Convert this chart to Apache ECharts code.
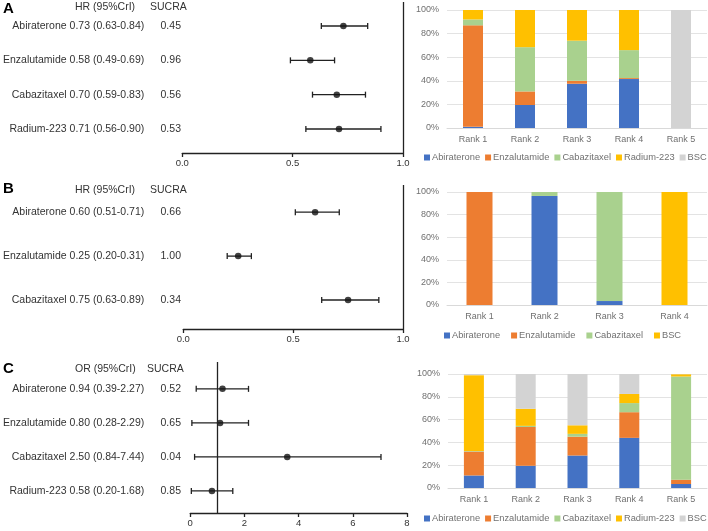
<!DOCTYPE html>
<html>
<head>
    <meta charset="utf-8">
    <title>Network meta-analysis forest plots and rank probabilities</title>
    <script src="https://cdn.jsdelivr.net/npm/echarts@6/dist/echarts.min.js"></script>
</head>
<body style="margin:0">
    <div id="main" style="width: 708px; height: 531px;"></div>

    <script type="text/javascript">
        var chart = echarts.init(document.getElementById('main'));

        // ---- forest plot data ----
        var drugsA = ['Abiraterone', 'Enzalutamide', 'Cabazitaxel', 'Radium-223'];
        var ciTextA = ['0.73 (0.63-0.84)', '0.58 (0.49-0.69)', '0.70 (0.59-0.83)', '0.71 (0.56-0.90)'];
        var sucraA = ['0.45', '0.96', '0.56', '0.53'];
        var estA = [0.73, 0.58, 0.70, 0.71];
        var loA = [0.63, 0.49, 0.59, 0.56];
        var hiA = [0.84, 0.69, 0.83, 0.90];

        var drugsB = ['Abiraterone', 'Enzalutamide', 'Cabazitaxel'];
        var ciTextB = ['0.60 (0.51-0.71)', '0.25 (0.20-0.31)', '0.75 (0.63-0.89)'];
        var sucraB = ['0.66', '1.00', '0.34'];
        var estB = [0.60, 0.25, 0.75];
        var loB = [0.51, 0.20, 0.63];
        var hiB = [0.71, 0.31, 0.89];

        var drugsC = ['Abiraterone', 'Enzalutamide', 'Cabazitaxel', 'Radium-223'];
        var ciTextC = ['0.94 (0.39-2.27)', '0.80 (0.28-2.29)', '2.50 (0.84-7.44)', '0.58 (0.20-1.68)'];
        var sucraC = ['0.52', '0.65', '0.04', '0.85'];
        // values as drawn in the plot
        var estC = [1.19, 1.10, 3.58, 0.80];
        var loC = [0.22, 0.06, 0.16, 0.04];
        var hiC = [2.15, 2.15, 7.04, 1.57];

        // ---- rank probability data (%) ----
        var ranks5 = ['Rank 1', 'Rank 2', 'Rank 3', 'Rank 4', 'Rank 5'];
        var ranks4 = ['Rank 1', 'Rank 2', 'Rank 3', 'Rank 4'];

        var abiA = [1, 19.5, 37.5, 41.5, 0];
        var enzA = [86, 11.5, 2.5, 0.8, 0];
        var cabA = [5, 37.5, 34, 23.7, 0];
        var radA = [8, 31.5, 26, 34, 0];
        var bscA = [0, 0, 0, 0, 100];

        var abiB = [0, 96.5, 3.5, 0];
        var enzB = [100, 0, 0, 0];
        var cabB = [0, 3.5, 96.5, 0];
        var bscB = [0, 0, 0, 100];

        var abiC = [11, 19.5, 28.5, 44, 3.5];
        var enzC = [21, 34, 16.5, 22.5, 3.8];
        var cabC = [0.5, 1, 2.5, 8, 90.5];
        var radC = [66.5, 15, 7.5, 8, 2];
        var bscC = [1, 30.5, 45, 17.5, 0.2];

        var colors = ['#4472C4', '#ED7D31', '#A9D18E', '#FFC000', '#D3D3D3'];
        var FONT = '"Liberation Sans", Arial, sans-serif';
        var INK = '#222';

        function ciRender(params, api) {
            var p1 = api.coord([api.value(0), api.value(2)]);
            var p2 = api.coord([api.value(1), api.value(2)]);
            var h = 3;
            var st = { stroke: INK, lineWidth: 1.3 };
            return {
                type: 'group',
                children: [
                    { type: 'line', shape: { x1: p1[0], y1: p1[1], x2: p2[0], y2: p2[1] }, style: st },
                    { type: 'line', shape: { x1: p1[0], y1: p1[1] - h, x2: p1[0], y2: p1[1] + h }, style: st },
                    { type: 'line', shape: { x1: p2[0], y1: p2[1] - h, x2: p2[0], y2: p2[1] + h }, style: st }
                ]
            };
        }

        function rowsOf(arr) {
            return arr.map(function (d, i) { return i + 1; });
        }

        function forestY(idx, names, ciText, sucra, min, max, margin) {
            return {
                type: 'value', gridIndex: idx, inverse: true, min: min, max: max,
                axisLine: { show: false }, axisTick: { show: false }, splitLine: { show: false },
                axisLabel: {
                    customValues: rowsOf(names),
                    margin: margin,
                    formatter: function (v) {
                        var i = Math.round(v) - 1;
                        return '{n|' + names[i] + ' ' + ciText[i] + '}{s|' + sucra[i] + '}';
                    },
                    rich: {
                        n: { fontSize: 10.5, fontFamily: FONT, color: '#333' },
                        s: { fontSize: 10.5, fontFamily: FONT, color: '#333', width: 23, padding: [0, 0, 0, 15], align: 'left' }
                    }
                }
            };
        }

        function forestX(idx, max, interval, digits) {
            return {
                type: 'value', gridIndex: idx, min: 0, max: max, interval: interval,
                axisLine: { show: true, lineStyle: { color: INK, width: 1.3 } },
                axisTick: { show: true, length: 4, lineStyle: { color: INK, width: 1.3 } },
                splitLine: { show: false },
                axisLabel: {
                    fontSize: 9.5, fontFamily: FONT, color: '#333', margin: 5,
                    formatter: function (v) { return v.toFixed(digits); }
                }
            };
        }

        function forestSeries(idx, est, lo, hi) {
            var pts = est.map(function (v, i) { return [v, i + 1]; });
            var cis = lo.map(function (v, i) { return [v, hi[i], i + 1]; });
            return [
                {
                    type: 'custom', xAxisIndex: idx, yAxisIndex: idx,
                    renderItem: ciRender, encode: { x: [0, 1], y: 2 }, data: cis, silent: true
                },
                {
                    type: 'scatter', xAxisIndex: idx, yAxisIndex: idx,
                    symbol: 'circle', symbolSize: 6.5, itemStyle: { color: '#111' }, data: pts,
                    markLine: {
                        silent: true, symbol: ['none', 'none'], label: { show: false },
                        lineStyle: { color: INK, width: 1.3, type: 'solid' },
                        data: [{ xAxis: 1 }]
                    }
                }
            ];
        }

        function barX(idx, cats) {
            return {
                type: 'category', gridIndex: idx, data: cats,
                axisLine: { lineStyle: { color: '#D9D9D9' } },
                axisTick: { show: false },
                axisLabel: { fontSize: 9, fontFamily: FONT, color: '#707070', margin: 7 }
            };
        }

        function barY(idx) {
            return {
                type: 'value', gridIndex: idx, min: 0, max: 100, interval: 20,
                axisLine: { show: false }, axisTick: { show: false },
                splitLine: { lineStyle: { color: '#E3E3E3' } },
                axisLabel: { fontSize: 9, fontFamily: FONT, color: '#707070', margin: 8, formatter: '{value}%' }
            };
        }

        function barSeries(idx, names, arrays, width) {
            return names.map(function (n, i) {
                return {
                    name: n, type: 'bar', stack: 'rank' + idx, xAxisIndex: idx, yAxisIndex: idx,
                    barWidth: width, itemStyle: { color: colors[i] }, data: arrays[i]
                };
            });
        }

        function legendFor(names, left, top, gap) {
            return {
                left: left, top: top, width: 300, orient: 'horizontal', itemGap: gap,
                itemWidth: 6, itemHeight: 6, icon: 'rect', padding: 0,
                textStyle: { fontSize: 9.3, fontFamily: FONT, color: '#707070', padding: [0, 0, 0, -3] },
                data: names.map(function (n, i) { return { name: n, itemStyle: { color: colors[i] } }; })
            };
        }

        var legA = ['Abiraterone', 'Enzalutamide', 'Cabazitaxel', 'Radium-223', 'BSC'];
        var legB = ['Abiraterone', 'Enzalutamide', 'Cabazitaxel', 'BSC'];

        function headerText(x, y, txt, bold) {
            return {
                type: 'text', x: x, y: y, silent: true,
                style: {
                    text: txt, fontFamily: FONT, fontSize: bold ? 15 : 10.5,
                    fontWeight: bold ? 'bold' : 'normal', fill: bold ? '#000' : '#333',
                    verticalAlign: 'middle'
                }
            };
        }

        var option = {
            animation: false,
            grid: [
                { left: 181, right: 305, top: 2, bottom: 378 },
                { left: 182, right: 305, top: 185, bottom: 202 },
                { left: 188, right: 301, top: 362, bottom: 18 },
                { left: 447, right: 1, top: 10, bottom: 403 },
                { left: 447, right: 1, top: 192, bottom: 226 },
                { left: 448, right: 1, top: 374, bottom: 43 }
            ],
            xAxis: [
                forestX(0, 1, 0.5, 1),
                forestX(1, 1, 0.5, 1),
                forestX(2, 8, 2, 0),
                barX(3, ranks5),
                barX(4, ranks4),
                barX(5, ranks5)
            ],
            yAxis: [
                forestY(0, drugsA, ciTextA, sucraA, 0.3, 4.7, 0),
                forestY(1, drugsB, ciTextB, sucraB, 0.38, 3.66, 1),
                forestY(2, drugsC, ciTextC, sucraC, 0.21, 4.65, 8),
                barY(3),
                barY(4),
                barY(5)
            ],
            legend: [
                legendFor(legA, 424, 153, 5),
                legendFor(legB, 444, 331, 11),
                legendFor(legA, 424, 514, 5)
            ],
            graphic: [
                headerText(3, 9, 'A', true),
                headerText(75, 7, 'HR (95%CrI)'),
                headerText(150, 7, 'SUCRA'),
                headerText(3, 189, 'B', true),
                headerText(75, 190, 'HR (95%CrI)'),
                headerText(150, 190, 'SUCRA'),
                headerText(3, 369, 'C', true),
                headerText(75, 369, 'OR (95%CrI)'),
                headerText(147, 369, 'SUCRA')
            ],
            series: [].concat(
                forestSeries(0, estA, loA, hiA),
                forestSeries(1, estB, loB, hiB),
                forestSeries(2, estC, loC, hiC),
                barSeries(3, legA, [abiA, enzA, cabA, radA, bscA], 20),
                barSeries(4, legB, [abiB, enzB, cabB, bscB], 26),
                barSeries(5, legA, [abiC, enzC, cabC, radC, bscC], 20)
            )
        };

        chart.setOption(option);
    </script>
</body>
</html>
